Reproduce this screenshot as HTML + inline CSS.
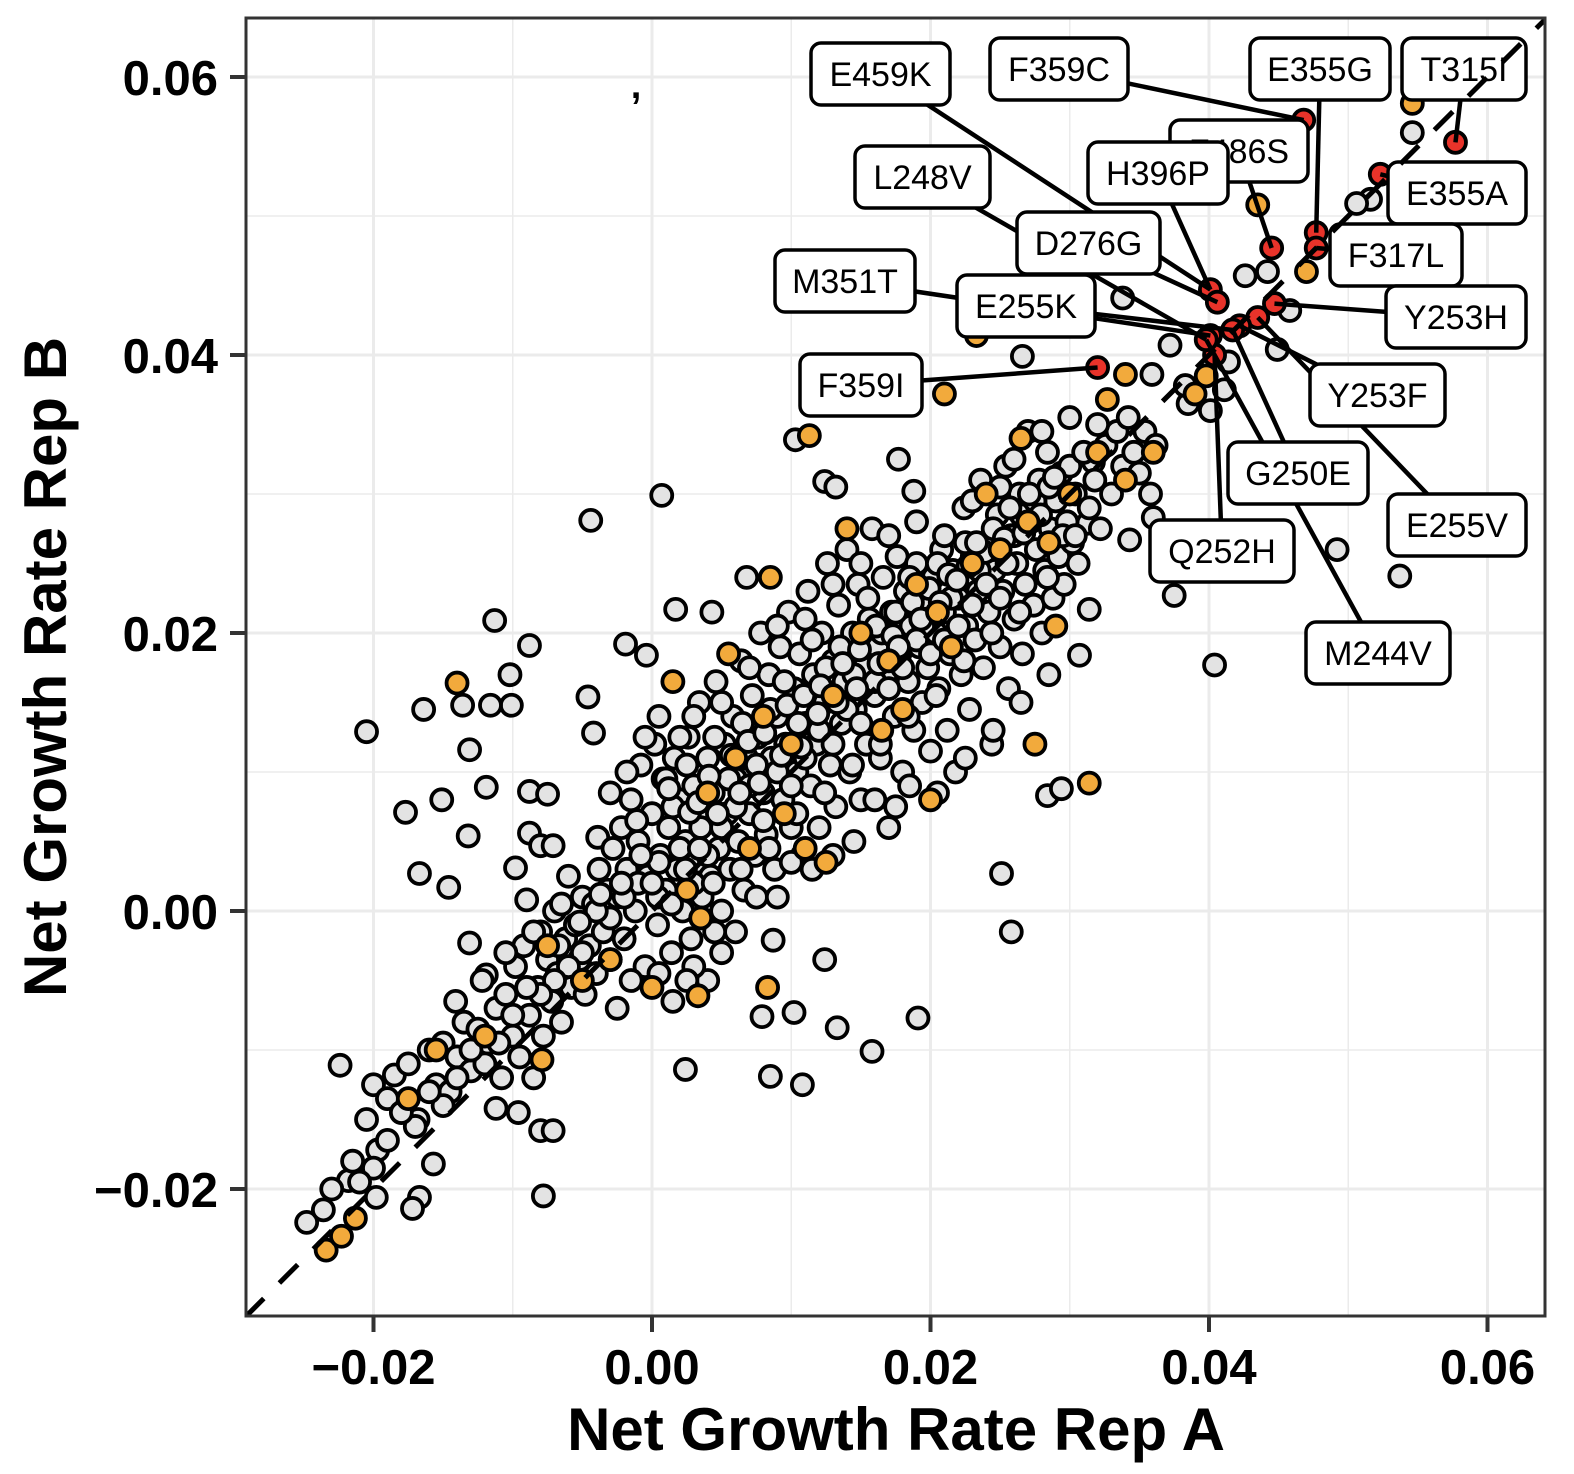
<!DOCTYPE html>
<html><head><meta charset="utf-8">
<style>
html,body{margin:0;padding:0;background:#fff;}
svg{display:block;font-family:"Liberation Sans",Arial,sans-serif;}
</style></head>
<body>
<svg id="chart" width="1574" height="1474" viewBox="0 0 1574 1474">
<defs><clipPath id="pc"><rect x="246" y="18" width="1299" height="1298"/></clipPath></defs>
<rect x="0" y="0" width="1574" height="1474" fill="#fff"/>
<g id="grid"></g>
<g id="gray" clip-path="url(#pc)"></g>
<g id="orange" clip-path="url(#pc)"></g>
<g id="red" clip-path="url(#pc)"></g>
<g id="labels"></g>
<g id="diag" clip-path="url(#pc)"></g>
<text x="636" y="98" font-size="38" font-weight="bold" text-anchor="middle">,</text>
<rect x="246" y="18" width="1299" height="1298" fill="none" stroke="#333" stroke-width="3"/>
<g id="axes"></g>
<text x="896" y="1450" font-size="60" font-weight="bold" text-anchor="middle">Net Growth Rate Rep A</text>
<text transform="translate(66,667) rotate(-90)" font-size="60" font-weight="bold" text-anchor="middle">Net Growth Rate Rep B</text>
</svg>
<script>
const xTicks=[-0.02,0,0.02,0.04,0.06];
const yTicks=[-0.02,0,0.02,0.04,0.06];
const xTickLabels=["\u22120.02","0.00","0.02","0.04","0.06"];
const yTickLabels=["\u22120.02","0.00","0.02","0.04","0.06"];
const minorTicks=[-0.01,0.01,0.03,0.05];
const grayPts=[[-0.0205,0.0129],[-0.0164,0.0145],[-0.0177,0.0071],[-0.0167,0.0027],[-0.0146,0.0017],[-0.0136,0.0148],[-0.0131,0.0116],[-0.0119,0.0089],[-0.0113,0.0209],[-0.0102,0.0170],[-0.0101,0.0148],[-0.0088,0.0191],[-0.0116,0.0148],[-0.0151,0.0080],[-0.0132,0.0054],[-0.0044,0.0281],[0.0007,0.0299],[-0.0019,0.0192],[-0.0004,0.0184],[0.0017,0.0217],[0.0043,0.0215],[0.0068,0.0240],[0.0103,0.0339],[0.0124,0.0309],[0.0132,0.0305],[0.0177,0.0325],[0.0188,0.0302],[0.0266,0.0399],[0.0338,0.0441],[0.0375,0.0227],[0.0404,0.0177],[0.0492,0.0260],[0.0537,0.0241],[0.0449,0.0404],[0.0251,0.0027],[0.0258,-0.0015],[0.0314,0.0217],[0.0307,0.0184],[0.0284,0.0083],[0.0294,0.0088],[0.0191,-0.0077],[0.0158,-0.0101],[0.0133,-0.0084],[0.0108,-0.0125],[0.0085,-0.0119],[0.0102,-0.0073],[0.0079,-0.0076],[0.0024,-0.0114],[0.0124,-0.0035],[0.0087,-0.0021],[-0.0078,-0.0205],[-0.0080,-0.0158],[-0.0071,-0.0158],[-0.0096,-0.0145],[-0.0112,-0.0142],[-0.0167,-0.0206],[-0.0172,-0.0214],[-0.0198,-0.0206],[-0.0224,-0.0111],[-0.0248,-0.0224],[-0.0236,-0.0215],[-0.0218,-0.0194],[-0.0197,-0.0172],[-0.0157,-0.0182],[-0.0141,-0.0065],[-0.0131,-0.0023],[-0.0119,-0.0046],[-0.0042,0.0128],[-0.0046,0.0154],[-0.0039,0.0053],[-0.0098,0.0031],[-0.0090,0.0008],[-0.0088,0.0056],[-0.0080,0.0047],[-0.0071,0.0047],[-0.0088,0.0086],[-0.0075,0.0084],[0.0546,0.0560],[0.0516,0.0512],[0.0506,0.0509],[0.0442,0.0460],[0.0426,0.0457],[0.0458,0.0432],[0.0414,0.0395],[0.0411,0.0375],[0.0385,0.0365],[0.0401,0.0360],[0.0383,0.0378],[0.0372,0.0407],[0.0359,0.0386],[0.0343,0.0267],[0.0360,0.0283],[0.0317,0.0323],[0.0313,0.0279],
[-0.0230,-0.0200],[-0.0215,-0.0180],[-0.0205,-0.0150],[-0.0200,-0.0125],[-0.0190,-0.0135],[-0.0185,-0.0118],[-0.0175,-0.0110],[-0.0168,-0.0150],[-0.0160,-0.0100],[-0.0155,-0.0125],[-0.0150,-0.0095],[-0.0145,-0.0130],[-0.0140,-0.0105],[-0.0135,-0.0080],[-0.0130,-0.0115],[-0.0125,-0.0085],[-0.0122,-0.0050],[-0.0118,-0.0095],[-0.0112,-0.0070],[-0.0108,-0.0120],[-0.0105,-0.0060],[-0.0100,-0.0090],[-0.0098,-0.0040],[-0.0095,-0.0105],[-0.0092,-0.0025],[-0.0088,-0.0075],[-0.0085,-0.0120],[-0.0082,-0.0055],[-0.0080,-0.0015],[-0.0078,-0.0090],[-0.0075,-0.0035],[-0.0072,-0.0065],[-0.0070,0.0000],[-0.0068,-0.0045],[-0.0065,-0.0080],[-0.0062,-0.0020],[-0.0060,0.0025],[-0.0058,-0.0055],[-0.0055,-0.0010],[-0.0052,-0.0035],[-0.0050,0.0010],[-0.0048,-0.0060],[-0.0045,-0.0025],[-0.0042,0.0005],[-0.0040,-0.0045],[-0.0038,0.0030],[-0.0035,-0.0015],[-0.0032,0.0015],[-0.0030,-0.0035],[-0.0028,0.0045],
[-0.0025,0.0010],[-0.0022,0.0060],[-0.0020,-0.0020],[-0.0018,0.0030],[-0.0015,0.0080],[-0.0012,0.0000],[-0.0010,0.0050],[-0.0008,0.0105],[-0.0005,-0.0040],[-0.0003,0.0025],[0.0000,0.0070],[0.0002,0.0120],[0.0004,-0.0010],[0.0006,0.0040],[0.0008,0.0095],[0.0010,0.0015],[0.0012,0.0060],[0.0014,-0.0030],[0.0016,0.0110],[0.0018,0.0030],[0.0020,0.0080],[0.0022,0.0000],[0.0024,0.0050],[0.0026,0.0125],[0.0028,-0.0020],[0.0030,0.0090],[0.0032,0.0035],[0.0034,0.0150],[0.0036,0.0010],[0.0038,0.0065],[0.0040,0.0110],[0.0042,0.0025],[0.0044,0.0085],[0.0046,0.0165],[0.0048,0.0045],[0.0050,0.0000],[0.0052,0.0120],[0.0054,0.0070],[0.0056,0.0030],[0.0058,0.0140],[0.0060,0.0095],[0.0062,0.0050],[0.0064,0.0180],[0.0066,0.0015],[0.0068,0.0110],[0.0070,0.0070],[0.0072,0.0155],[0.0074,0.0040],[0.0076,0.0125],[0.0078,0.0200],[0.0080,0.0085],[0.0082,0.0055],[0.0084,0.0170],[0.0086,0.0110],[0.0088,0.0030],[0.0090,0.0140],[0.0092,0.0190],[0.0094,0.0080],[0.0096,0.0120],[0.0098,0.0215],[0.0100,0.0060],[0.0102,0.0160],[0.0104,0.0100],[0.0106,0.0185],[0.0108,0.0040],[0.0110,0.0135],[0.0112,0.0230],[0.0114,0.0090],[0.0116,0.0170],[0.0118,0.0120],[0.0120,0.0060],[0.0122,0.0200],[0.0124,0.0150],[0.0126,0.0250],[0.0128,0.0105],[0.0130,0.0180],[0.0132,0.0075],[0.0134,0.0220],[0.0136,0.0135],[0.0138,0.0165],[0.0140,0.0260],[0.0142,0.0100],[0.0144,0.0200],[0.0146,0.0145],[0.0148,0.0235],[0.0150,0.0080],[0.0152,0.0175],[0.0154,0.0120],[0.0156,0.0210],[0.0158,0.0275],[0.0160,0.0155],[0.0162,0.0190],[0.0164,0.0110],[0.0166,0.0240],[0.0168,0.0170],[0.0170,0.0060],[0.0172,0.0215],[0.0174,0.0140],[0.0176,0.0255],[0.0178,0.0185],[0.0180,0.0100],[0.0182,0.0230],[0.0184,0.0165],[0.0186,0.0205],[0.0188,0.0130],[0.0190,0.0250],[0.0192,0.0190],[0.0194,0.0150],[0.0196,0.0225],[0.0198,0.0175],[0.0200,0.0115],[0.0202,0.0240],[0.0204,0.0200],[0.0206,0.0160],[0.0208,0.0260],[0.0210,0.0215],[0.0212,0.0130],[0.0214,0.0185],[0.0216,0.0245],[0.0218,0.0100],[0.0220,0.0225],[0.0222,0.0170],[0.0224,0.0290],[0.0226,0.0205],[0.0228,0.0145],[0.0230,0.0255],[0.0232,0.0195],[0.0234,0.0230],[0.0236,0.0310],[0.0238,0.0175],[0.0240,0.0265],[0.0242,0.0215],[0.0244,0.0120],[0.0246,0.0245],[0.0248,0.0285],[0.0250,0.0190],[0.0252,0.0230],[0.0254,0.0320],[0.0256,0.0160],[0.0258,0.0270],[0.0260,0.0210],[0.0262,0.0250],[0.0264,0.0300],[0.0266,0.0185],[0.0268,0.0235],[0.0270,0.0345],[0.0272,0.0280],[0.0274,0.0220],[0.0276,0.0260],[0.0278,0.0310],[0.0280,0.0200],[0.0282,0.0245],[0.0284,0.0330],[0.0286,0.0275],[0.0288,0.0225],[0.0290,0.0295],[0.0292,0.0255],[0.0294,0.0315],[0.0296,0.0235],[0.0298,0.0280],[0.0300,0.0320],[0.0302,0.0265],[0.0304,0.0300],[0.0306,0.0250],[0.0310,0.0330],[0.0314,0.0290],[0.0318,0.0310],[0.0322,0.0275],[0.0326,0.0335],[0.0330,0.0300],[0.0334,0.0345],[0.0338,0.0320],[0.0342,0.0355],[0.0346,0.0330],[0.0350,0.0315],[0.0354,0.0345],[0.0358,0.0300],[0.0362,0.0335],
[0.0050,-0.0030],[0.0060,-0.0015],[0.0075,0.0010],[0.0090,0.0010],[0.0100,0.0035],[0.0115,0.0030],[0.0130,0.0040],[0.0145,0.0050],[0.0160,0.0080],[0.0175,0.0075],[0.0185,0.0090],[0.0205,0.0085],[0.0225,0.0110],[0.0245,0.0130],[0.0265,0.0150],[0.0285,0.0170],[0.0040,-0.0050],[0.0030,-0.0040],
[0.0005,0.0035],[0.0015,0.0075],[0.0025,0.0105],[0.0035,0.0060],[0.0045,0.0125],[0.0055,0.0095],[0.0065,0.0135],[0.0075,0.0105],[0.0085,0.0145],[0.0095,0.0165],[0.0105,0.0135],[0.0115,0.0195],[0.0125,0.0175],[0.0135,0.0190],[0.0145,0.0170],[0.0155,0.0225],[0.0165,0.0200],[0.0175,0.0215],[0.0185,0.0240],[0.0195,0.0205],[0.0205,0.0250],[0.0215,0.0225],[0.0225,0.0265],[0.0235,0.0245],[0.0245,0.0275],[0.0255,0.0250],[0.0265,0.0285],[0.0275,0.0295],[0.0285,0.0305],[0.0295,0.0270],[0.0020,0.0045],[0.0030,0.0020],[0.0040,0.0040],[0.0050,0.0060],[0.0060,0.0075],[0.0070,0.0090],[0.0080,0.0065],[0.0090,0.0100],[0.0100,0.0090],[0.0110,0.0110],[0.0120,0.0130],[0.0130,0.0120],[0.0140,0.0145],[0.0150,0.0135],[0.0160,0.0165],[0.0170,0.0160],[0.0180,0.0175],[0.0190,0.0195],[0.0200,0.0185],[0.0210,0.0195],[0.0220,0.0205],[0.0230,0.0220],[0.0240,0.0235],[0.0250,0.0225],[0.0260,0.0270],[-0.0010,0.0020],[-0.0020,0.0010],[-0.0030,-0.0005],[-0.0040,0.0000],[-0.0050,-0.0030],[-0.0060,-0.0040],[-0.0070,-0.0050],[-0.0080,-0.0060],[-0.0090,-0.0055],[-0.0100,-0.0075],[-0.0110,-0.0095],[-0.0120,-0.0110],[-0.0130,-0.0100],[-0.0140,-0.0120],[-0.0150,-0.0140],[-0.0160,-0.0130],[-0.0170,-0.0155],[-0.0180,-0.0145],[-0.0190,-0.0165],[-0.0200,-0.0185],[-0.0210,-0.0195],[0.0010,0.0095],[0.0030,0.0140],[0.0050,0.0150],[0.0070,0.0175],[0.0090,0.0205],[0.0110,0.0210],[0.0130,0.0235],[0.0150,0.0250],[0.0170,0.0270],[0.0190,0.0280],[0.0210,0.0270],[0.0230,0.0295],[0.0250,0.0305],[0.0260,0.0325],[0.0280,0.0345],[0.0300,0.0355],[0.0320,0.0350],[0.0004,0.0010],[0.0014,0.0005],[0.0024,0.0030],[0.0034,0.0045],[0.0044,0.0020],[0.0064,0.0030],[0.0084,0.0045],[0.0104,0.0070],[0.0124,0.0085],[0.0144,0.0105],[0.0164,0.0120],[0.0184,0.0140],[0.0204,0.0155],[0.0224,0.0180],[0.0244,0.0200],[0.0264,0.0215],[0.0284,0.0240],[0.0304,0.0270],[-0.0015,-0.0050],[-0.0025,-0.0070],[0.0005,-0.0045],[0.0015,-0.0065],[0.0025,-0.0050],[0.0045,-0.0015],[-0.0065,0.0005],[-0.0085,-0.0015],[-0.0105,-0.0030],[-0.0018,0.0100],[-0.0030,0.0085],[-0.0005,0.0125],[0.0005,0.0140],[0.0020,0.0125],
[0.0012,0.0088],[0.0027,0.0071],[0.0041,0.0097],[0.0057,0.0112],[0.0069,0.0122],[0.0081,0.0128],[0.0097,0.0148],[0.0109,0.0155],[0.0121,0.0162],[0.0137,0.0178],[0.0149,0.0188],[0.0161,0.0205],[0.0173,0.0198],[0.0187,0.0222],[0.0199,0.0232],[0.0213,0.0242],[0.0227,0.0248],[0.0239,0.0258],[0.0253,0.0268],[0.0267,0.0272],[0.0279,0.0285],[0.0289,0.0312],[0.0033,0.0078],[0.0047,0.0070],[0.0063,0.0085],[0.0077,0.0092],[0.0093,0.0112],[0.0107,0.0118],[0.0119,0.0142],[0.0133,0.0150],[0.0147,0.0160],[0.0163,0.0178],[0.0177,0.0190],[0.0193,0.0210],[0.0207,0.0222],[0.0219,0.0238],[0.0233,0.0265],[0.0257,0.0290],[0.0271,0.0300],[-0.0008,0.0040],[-0.0022,0.0020],[-0.0037,0.0012],[-0.0052,-0.0008],[-0.0067,-0.0025],[-0.0011,0.0065],[0.0000,0.0020]];
const orangePts=[[-0.0140,0.0164],[0.0113,0.0342],[0.0210,0.0372],[0.0233,0.0414],[0.0085,0.0240],[0.0314,0.0092],[-0.0234,-0.0244],[-0.0223,-0.0234],[-0.0213,-0.0221],[0.0033,-0.0061],[0.0083,-0.0055],[-0.0079,-0.0107],[0.0546,0.0581],[0.0470,0.0460],[0.0435,0.0508],[0.0340,0.0386],[0.0327,0.0368],[0.0015,0.0165],[0.0055,0.0185],[0.0080,0.0140],[0.0040,0.0085],[0.0070,0.0045],[0.0100,0.0120],[0.0130,0.0155],[0.0150,0.0200],[0.0170,0.0180],[0.0190,0.0235],[0.0205,0.0215],[0.0230,0.0250],[0.0250,0.0260],[0.0270,0.0280],[0.0285,0.0265],[0.0300,0.0300],[0.0320,0.0330],[0.0340,0.0310],[0.0360,0.0330],[0.0140,0.0275],[0.0110,0.0045],[0.0125,0.0035],[0.0000,-0.0055],[-0.0030,-0.0035],[-0.0050,-0.0050],[-0.0075,-0.0025],[-0.0120,-0.0090],[-0.0155,-0.0100],[-0.0175,-0.0135],[0.0025,0.0015],[0.0060,0.0110],[0.0095,0.0070],[0.0180,0.0145],[0.0215,0.0190],[0.0240,0.0300],[0.0265,0.0340],[0.0200,0.0080],[0.0275,0.0120],[0.0035,-0.0005],[0.0165,0.0130],[0.0290,0.0205],[0.0398,0.0385],[0.0390,0.0372]];
const redPts=[[0.0468,0.0569],[0.0577,0.0553],[0.0523,0.0530],[0.0445,0.0477],[0.0477,0.0488],[0.0477,0.0477],[0.0401,0.0447],[0.0406,0.0438],[0.0447,0.0437],[0.0435,0.0427],[0.0422,0.0421],[0.0417,0.0418],[0.0401,0.0414],[0.0404,0.0400],[0.0320,0.0391],[0.0398,0.0411]];
const labelTexts=["E459K","F359C","E355G","T315I","F486S","H396P","L248V","E355A","D276G","F317L","M351T","E255K","Y253H","F359I","Y253F","G250E","E255V","Q252H","M244V"];
const labelPoint=[6,0,4,1,3,6,15,2,7,5,12,11,8,14,10,11,9,13,15];
// label box layout [left, top, width, height] in px
const labelBoxes=[[811,43,139,62],[990,38,138,62],[1250,38,140,62],[1402,38,124,62],[1170,120,138,62],[1088,142,140,62],[855,146,135,62],[1388,162,138,62],[1017,212,143,62],[1330,224,132,62],[775,250,140,62],[957,275,138,62],[1386,286,140,62],[800,354,122,62],[1310,364,135,62],[1228,442,140,62],[1388,494,138,62],[1150,520,144,62],[1306,622,144,62]];

const NS="http://www.w3.org/2000/svg";
const X=v=>652+v*13925, Y=v=>911-v*13900;
const XMIN=-0.0292,XMAX=0.0641;
function mk(t,a,p){const e=document.createElementNS(NS,t);for(const k in a)e.setAttribute(k,a[k]);p.appendChild(e);return e;}
const grid=document.getElementById('grid');
minorTicks.forEach(v=>{
  const a=mk('line',{x1:X(v),x2:X(v),y1:18,y2:1316,stroke:'#ebebeb','stroke-width':1.5},grid);
  
  const b=mk('line',{x1:246,x2:1545,y1:Y(v),y2:Y(v),stroke:'#ebebeb','stroke-width':1.5},grid);
  
});
xTicks.forEach(v=>{const a=mk('line',{x1:X(v),x2:X(v),y1:18,y2:1316,stroke:'#ebebeb','stroke-width':3},grid);
  });
yTicks.forEach(v=>{const a=mk('line',{x1:246,x2:1545,y1:Y(v),y2:Y(v),stroke:'#ebebeb','stroke-width':3},grid);
  });
function pts(arr,gid,fill,name){const g=document.getElementById(gid);
  arr.forEach(p=>{const c=mk('circle',{cx:X(p[0]),cy:Y(p[1]),r:10.5,fill:fill,stroke:'#000','stroke-width':3.8},g);
    
    });}
pts(grayPts,'gray','#e3e3e3','gray-point');
pts(orangePts,'orange','#f2aa3c','orange-point');
pts(redPts,'red','#e8332a','red-point');
const lg=document.getElementById('labels');
labelTexts.forEach((t,i)=>{const b=labelBoxes[i],p=redPts[labelPoint[i]];
  const l=mk('line',{x1:b[0]+b[2]/2,y1:b[1]+b[3]/2,x2:X(p[0]),y2:Y(p[1]),stroke:'#000','stroke-width':4.5},lg);
  
  });
labelTexts.forEach((t,i)=>{const b=labelBoxes[i];
  const g=mk('g',{},lg);
  
  
  mk('rect',{x:b[0],y:b[1],width:b[2],height:b[3],rx:10,fill:'#fff',stroke:'#000','stroke-width':3.5},g);
  const tx=mk('text',{x:b[0]+b[2]/2,y:b[1]+b[3]/2+12,'font-size':34,'text-anchor':'middle'},g);
  tx.textContent=t;});
const dg=document.getElementById('diag');
const d=mk('line',{x1:X(XMIN),y1:Y(XMIN),x2:X(XMAX),y2:Y(XMAX),stroke:'#000','stroke-width':5,'stroke-dasharray':'26 22'},dg);


const ax=document.getElementById('axes');
xTicks.forEach((v,i)=>{mk('line',{x1:X(v),x2:X(v),y1:1316,y2:1332,stroke:'#333','stroke-width':4},ax);
  const t=mk('text',{x:X(v),y:1384,'font-size':49,'font-weight':'bold','text-anchor':'middle'},ax);
  
  
  t.textContent=xTickLabels[i];});
yTicks.forEach((v,i)=>{mk('line',{x1:230,x2:246,y1:Y(v),y2:Y(v),stroke:'#333','stroke-width':4},ax);
  const t=mk('text',{x:218,y:Y(v)+18,'font-size':49,'font-weight':'bold','text-anchor':'end'},ax);
  
  
  t.textContent=yTickLabels[i];});
</script>
</body></html>
